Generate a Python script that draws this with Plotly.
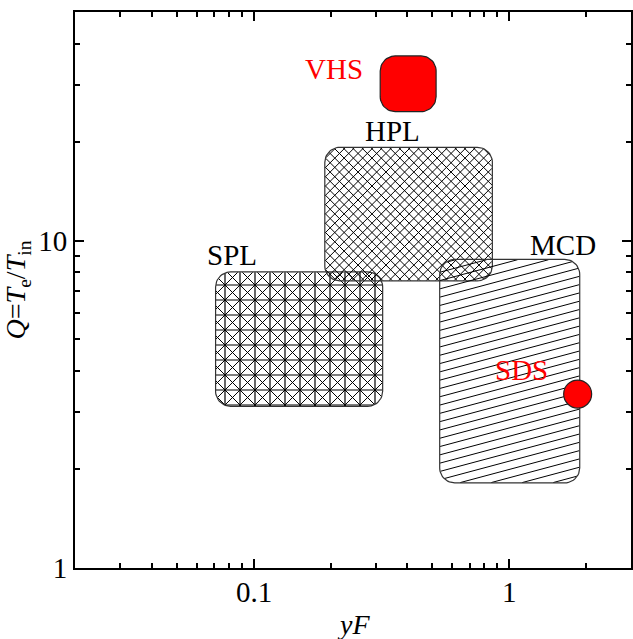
import numpy as np
import plotly.graph_objects as go

# ---------------- data ----------------
x_range = [0.02, 3.0]
y_range = [1.0, 50.0]
x_tickvals = [0.1, 1]
x_ticktext = ["0.1", "1"]
y_tickvals = [1, 10]
y_ticktext = ["1", "10"]
x_minor = [0.03, 0.04, 0.05, 0.06, 0.07, 0.08, 0.09, 0.2, 0.3, 0.4, 0.5, 0.6, 0.7, 0.8, 0.9, 2, 3]
y_minor = [2, 3, 4, 5, 6, 7, 8, 9, 20, 30, 40]

regions = ["SPL", "HPL", "MCD"]
reg_x_lo = [0.071, 0.19, 0.535]
reg_x_hi = [0.32, 0.86, 1.89]
reg_y_lo = [3.12, 7.54, 1.82]
reg_y_hi = [8.03, 19.3, 8.77]

vhs_x = [0.313, 0.518]
vhs_y = [24.8, 36.7]

sds_x = [1.855]
sds_y = [3.40]

label_text = ["VHS", "HPL", "SPL", "MCD", "SDS"]
label_x = [0.207, 0.351, 0.082, 1.62, 1.12]
label_y = [33.5, 21.7, 9.03, 9.68, 4.03]
label_color = ["#ff0000", "black", "black", "black", "#ff0000"]

# ---------------- geometry helpers ----------------
W, H = 633, 639
ML, MR, MT, MB = 75, 2, 12, 71
PW, PH = W - ML - MR, H - MT - MB
lx0, lx1 = np.log10(x_range)
ly0, ly1 = np.log10(y_range)
FONT = "Liberation Serif"


def to_px(x):
    return ML + (np.log10(x) - lx0) / (lx1 - lx0) * PW


def to_py(y):
    return MT + (ly1 - np.log10(y)) / (ly1 - ly0) * PH


def from_px(px):
    return 10 ** (lx0 + (np.asarray(px) - ML) / PW * (lx1 - lx0))


def from_py(py):
    return 10 ** (ly1 - (np.asarray(py) - MT) / PH * (ly1 - ly0))


def rounded_rect(xlo, xhi, ylo, yhi, r):
    x0, x1 = to_px(xlo), to_px(xhi)
    y0, y1 = to_py(yhi), to_py(ylo)
    pts = []
    corners = [(x1 - r, y0 + r, -90, 0), (x1 - r, y1 - r, 0, 90),
               (x0 + r, y1 - r, 90, 180), (x0 + r, y0 + r, 180, 270)]
    for cx, cy, a0, a1 in corners:
        for a in np.linspace(np.radians(a0), np.radians(a1), 14):
            pts.append((cx + r * np.cos(a), cy + r * np.sin(a)))
    pts.append(pts[0])
    pts = np.array(pts)
    return list(from_px(pts[:, 0])), list(from_py(pts[:, 1])), (x0, x1, y0, y1)


def inside(px, py, box, r):
    x0, x1, y0, y1 = box
    cx = np.clip(px, x0 + r, x1 - r)
    cy = np.clip(py, y0 + r, y1 - r)
    return (px - cx) ** 2 + (py - cy) ** 2 <= (r - 0.3) ** 2


def hatch(box, r, angle_deg, spacing, offset=0.0):
    x0, x1, y0, y1 = box
    th = np.radians(angle_deg)
    d = np.array([np.cos(th), np.sin(th)])
    n = np.array([-np.sin(th), np.cos(th)])
    cs = np.array([[x0, y0], [x1, y0], [x0, y1], [x1, y1]])
    cproj = cs @ n
    tproj = cs @ d
    k0 = int(np.floor((cproj.min() - offset) / spacing)) - 1
    k1 = int(np.ceil((cproj.max() - offset) / spacing)) + 1
    t = np.linspace(tproj.min() - 2, tproj.max() + 2, 1500)
    xs, ys = [], []
    for k in range(k0, k1 + 1):
        c = offset + k * spacing
        px = c * n[0] + t * d[0]
        py = c * n[1] + t * d[1]
        m = inside(px, py, box, r)
        if m.sum() < 2:
            continue
        idx = np.where(m)[0]
        a, b = idx[0], idx[-1]
        xs += [float(from_px(px[a])), float(from_px(px[b])), None]
        ys += [float(from_py(py[a])), float(from_py(py[b])), None]
    return xs, ys


RADIUS = 15
hatch_specs = {
    "SPL": [(0, 15.0, 1.2), (90, 15.0, 1.2), (45, 15.0 / np.sqrt(2), 1.0), (-45, 15.0 / np.sqrt(2), 1.0)],
    "HPL": [(45, 9.3 / np.sqrt(2), 1.0), (-45, 9.3 / np.sqrt(2), 1.0)],
    "MCD": [(-15, 8.3 * np.cos(np.radians(15)), 1.0)],
}

fig = go.Figure()

for i, name in enumerate(regions):
    ox, oy, box = rounded_rect(reg_x_lo[i], reg_x_hi[i], reg_y_lo[i], reg_y_hi[i], RADIUS)
    for ang, sp, lw in hatch_specs[name]:
        hx, hy = hatch(box, RADIUS, ang, sp)
        fig.add_trace(go.Scatter(x=hx, y=hy, mode="lines", line=dict(color="black", width=lw),
                                 hoverinfo="skip", showlegend=False))
    fig.add_trace(go.Scatter(x=ox, y=oy, mode="lines", fill="toself",
                             fillcolor="rgba(0,0,0,0)", line=dict(color="#333333", width=1.2),
                             name=name, showlegend=False))

vx, vy, _ = rounded_rect(vhs_x[0], vhs_x[1], vhs_y[0], vhs_y[1], 15)
fig.add_trace(go.Scatter(x=vx, y=vy, mode="lines", fill="toself", fillcolor="#ff0000",
                         line=dict(color="#222222", width=1.2), name="VHS", showlegend=False))

fig.add_trace(go.Scatter(x=sds_x, y=sds_y, mode="markers", name="SDS", showlegend=False,
                         marker=dict(size=28, color="#ff0000", line=dict(color="#222222", width=1.2))))

for t, x, y, c in zip(label_text, label_x, label_y, label_color):
    fig.add_annotation(x=np.log10(x), y=np.log10(y), xref="x", yref="y", text=t,
                       showarrow=False, font=dict(family=FONT, size=29, color=c))

# x tick labels placed just below the axis
for v, t in zip(x_tickvals, x_ticktext):
    fig.add_annotation(x=np.log10(v), y=0, xref="x", yref="paper", text=t, showarrow=False,
                       yanchor="middle", yshift=-24, font=dict(family=FONT, size=29, color="black"))

axis_common = dict(type="log", showgrid=False, zeroline=False, showline=True, linewidth=2,
                   linecolor="black", mirror="ticks", ticks="inside", ticklen=9, tickwidth=2,
                   tickcolor="black",
                   tickfont=dict(family=FONT, size=29, color="black"))

fig.update_xaxes(range=[lx0, lx1], tickmode="array", tickvals=x_tickvals, ticktext=x_ticktext,
                 showticklabels=False,
                 minor=dict(tickmode="array", tickvals=x_minor, ticks="inside", ticklen=5,
                            tickwidth=1.5, tickcolor="black"),
                 **axis_common)
fig.add_annotation(x=0.5, y=0, xref="paper", yref="paper", text="<i>yF</i>", showarrow=False,
                   yanchor="middle", yshift=-56, font=dict(family=FONT, size=28, color="black"))

fig.update_yaxes(range=[ly0, ly1], tickmode="array", tickvals=y_tickvals, ticktext=y_ticktext,
                 minor=dict(tickmode="array", tickvals=y_minor, ticks="inside", ticklen=5,
                            tickwidth=1.5, tickcolor="black"),
                 title=dict(text="<i>Q</i>=<i>T</i><sub>e</sub>/<i>T</i><sub>in</sub>", standoff=6,
                            font=dict(family=FONT, size=28, color="black")),
                 **axis_common)

fig.update_layout(width=W, height=H, margin=dict(l=ML, r=MR, t=MT, b=MB, autoexpand=False),
                  plot_bgcolor="white", paper_bgcolor="white")

fig.write_html("out.html")
